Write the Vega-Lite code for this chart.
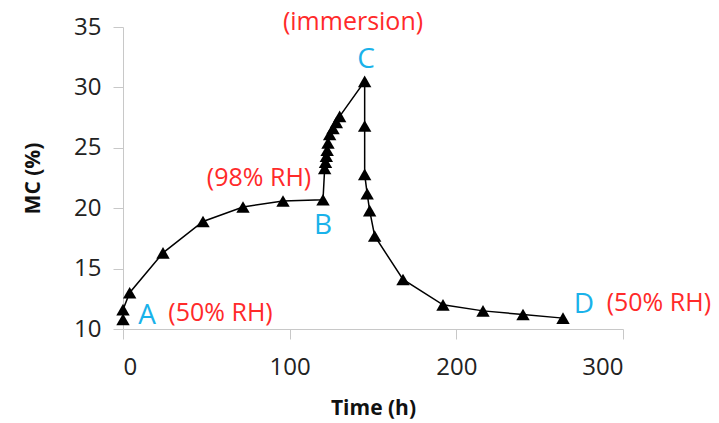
{
  "$schema": "https://vega.github.io/schema/vega-lite/v6.json",
  "width": 500,
  "height": 302,
  "autosize": "none",
  "padding": {"left": 123, "top": 27, "right": 96, "bottom": 94},
  "background": "white",
  "config": {"view": {"stroke": null}, "font": "Open Sans"},
  "datasets": {
    "mc": [
      {"i": 1, "t": 0, "mc": 10.8},
      {"i": 2, "t": 0, "mc": 11.6},
      {"i": 3, "t": 4, "mc": 13.0},
      {"i": 4, "t": 24, "mc": 16.3},
      {"i": 5, "t": 48, "mc": 18.9},
      {"i": 6, "t": 72, "mc": 20.1},
      {"i": 7, "t": 96, "mc": 20.6},
      {"i": 8, "t": 120, "mc": 20.7},
      {"i": 9, "t": 121, "mc": 23.3},
      {"i": 10, "t": 121.5, "mc": 23.8},
      {"i": 11, "t": 122, "mc": 24.3},
      {"i": 12, "t": 122.5, "mc": 24.8},
      {"i": 13, "t": 123, "mc": 25.4},
      {"i": 14, "t": 124, "mc": 26.1},
      {"i": 15, "t": 126, "mc": 26.6},
      {"i": 16, "t": 128, "mc": 27.1},
      {"i": 17, "t": 130, "mc": 27.6},
      {"i": 18, "t": 145, "mc": 30.5},
      {"i": 19, "t": 145, "mc": 26.8},
      {"i": 20, "t": 145, "mc": 22.8},
      {"i": 21, "t": 146.5, "mc": 21.2},
      {"i": 22, "t": 148, "mc": 19.8},
      {"i": 23, "t": 151, "mc": 17.7},
      {"i": 24, "t": 168, "mc": 14.1},
      {"i": 25, "t": 192, "mc": 12.0},
      {"i": 26, "t": 216, "mc": 11.5},
      {"i": 27, "t": 240, "mc": 11.2},
      {"i": 28, "t": 264, "mc": 10.9}
    ],
    "labels": [
      {"t": 14.4, "mc": 11.1, "txt": "A", "kind": "pt"},
      {"t": 120, "mc": 18.5, "txt": "B", "kind": "pt"},
      {"t": 145.8, "mc": 32.3, "txt": "C", "kind": "pt"},
      {"t": 276.5, "mc": 12.0, "txt": "D", "kind": "pt"},
      {"t": 58.5, "mc": 11.3, "txt": "(50% RH)", "kind": "cond"},
      {"t": 81.6, "mc": 22.5, "txt": "(98% RH)", "kind": "cond"},
      {"t": 138, "mc": 35.45, "txt": "(immersion)", "kind": "cond"},
      {"t": 321.5, "mc": 12.15, "txt": "(50% RH)", "kind": "cond"}
    ]
  },
  "layer": [
    {
      "data": {"name": "mc"},
      "mark": {"type": "line", "color": "black", "strokeWidth": 1.5, "interpolate": "linear"},
      "encoding": {
        "x": {"field": "t", "type": "quantitative", "scale": {"domain": [0, 300], "nice": false},
          "axis": {"title": "Time (h)", "values": [0, 100, 200, 300], "grid": false, "domainColor": "#c8c8c8", "tickColor": "#c8c8c8", "tickSize": 10, "labelFontSize": 24, "labelColor": "#222", "labelPadding": 16, "titleFontSize": 21, "titleFontWeight": "bold", "titleColor": "#111", "titlePadding": 18}},
        "y": {"field": "mc", "type": "quantitative", "scale": {"domain": [10, 35], "nice": false, "zero": false},
          "axis": {"title": "MC (%)", "values": [10, 15, 20, 25, 30, 35], "grid": false, "domainColor": "#c8c8c8", "tickColor": "#c8c8c8", "tickSize": 10, "labelFontSize": 24, "labelColor": "#222", "labelPadding": 12, "titleFontSize": 21, "titleFontWeight": "bold", "titleColor": "#111", "titlePadding": 30}},
        "order": {"field": "i", "type": "quantitative"}
      }
    },
    {
      "data": {"name": "mc"},
      "mark": {"type": "point", "shape": "triangle-up", "filled": true, "color": "black", "size": 180, "opacity": 1},
      "encoding": {
        "x": {"field": "t", "type": "quantitative"},
        "y": {"field": "mc", "type": "quantitative"}
      }
    },
    {
      "data": {"name": "labels"},
      "transform": [{"filter": "datum.kind == 'pt'"}],
      "mark": {"type": "text", "fontSize": 28, "color": "#1ab2ea", "baseline": "middle", "align": "center"},
      "encoding": {
        "x": {"field": "t", "type": "quantitative"},
        "y": {"field": "mc", "type": "quantitative"},
        "text": {"field": "txt"}
      }
    },
    {
      "data": {"name": "labels"},
      "transform": [{"filter": "datum.kind == 'cond'"}],
      "mark": {"type": "text", "fontSize": 25, "color": "#ff2a2a", "baseline": "middle", "align": "center"},
      "encoding": {
        "x": {"field": "t", "type": "quantitative"},
        "y": {"field": "mc", "type": "quantitative"},
        "text": {"field": "txt"}
      }
    }
  ]
}
